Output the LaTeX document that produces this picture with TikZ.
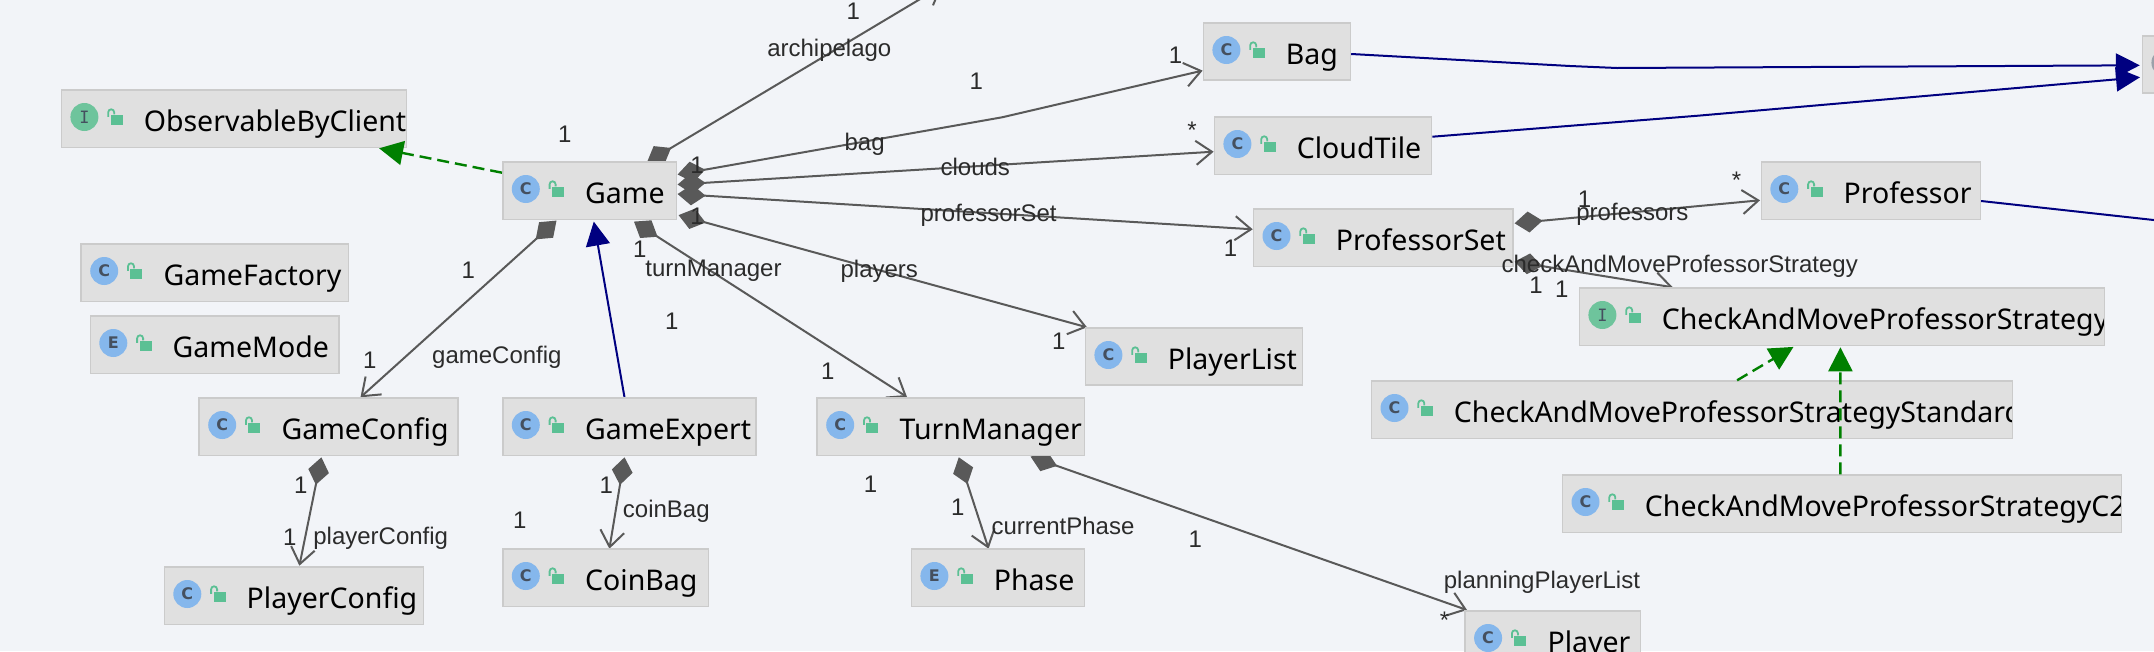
\documentclass[tikz,border=0pt]{standalone}
\usepackage{fontspec}
\setmainfont{Noto Sans}
\newfontfamily\lblfont{Liberation Sans}
\newfontfamily\iconfont{DejaVu Sans}
\newfontfamily\iconmono{DejaVu Sans Mono}
\usetikzlibrary{arrows.meta,calc}
\pgfdeclarelayer{under}
\pgfsetlayers{under,main}
\definecolor{bgc}{HTML}{F2F4F8}
\definecolor{boxfill}{HTML}{E0E0E0}
\definecolor{boxline}{HTML}{CBCBCB}
\definecolor{iconblue}{HTML}{85B7EC}
\definecolor{icongreen}{HTML}{6EC49C}
\definecolor{icongray}{HTML}{9BA1AA}
\definecolor{icontext}{HTML}{45505F}
\definecolor{lockgreen}{HTML}{5BC094}
\definecolor{assoc}{HTML}{595959}
\definecolor{navyl}{HTML}{000080}
\definecolor{greenl}{HTML}{008000}
\definecolor{lbl}{HTML}{2B2B2B}
\tikzset{
  x=1pt,y=-1pt,
  classbox/.style={draw=boxline,fill=boxfill,line width=1.6pt,inner sep=0pt},
  classname/.style={anchor=base west,inner sep=0pt,font=\fontsize{28.5}{28.5}\selectfont,text=black},
  iconc/.style={circle,minimum size=28pt,inner sep=0pt,fill=iconblue,text=icontext,font=\iconfont\bfseries\fontsize{16}{16}\selectfont},
  iconi/.style={iconc,fill=icongreen,font=\iconmono\fontsize{17}{17}\selectfont},
  icong/.style={iconc,fill=icongray},
  lockbody/.style={fill=lockgreen,draw=none},
  lockarc/.style={draw=lockgreen,line width=1.8pt},
  role/.style={inner sep=0pt,font=\lblfont\fontsize{24}{24}\selectfont,text=lbl},
  comp/.style={draw=assoc,line width=2pt,{Diamond[length=28pt,width=21pt,fill=assoc]}-{Straight Barb[length=16pt,width=24pt,line width=2pt]}},
  navyinh/.style={draw=navyl,line width=2pt,-{Triangle[length=24pt,width=24pt,fill=navyl]}},
  implarrow/.style={draw=greenl,line width=2.4pt,dash pattern=on 12pt off 6pt,-{Triangle[length=24pt,width=24pt,fill=greenl]}},
}
% name, x0, y0, x1, y1, icon style, letter, text
\newcommand{\umlclass}[8]{%
  \node[classbox,minimum width=#4pt-#2pt,minimum height=#5pt-#3pt,anchor=north west] (#1) at (#2,#3) {};
  \node[#6] (#1-icon) at ($(#1.north west)+(23.8,27.7)$) {#7};
  \fill[lockbody] ($(#1.north west)+(50,26)$) rectangle ($(#1.north west)+(62,35.7)$);
  \draw[lockarc] ($(#1.north west)+(47.6,27.5)$) -- ($(#1.north west)+(47.6,23)$) arc[start angle=180,end angle=0,x radius=3pt,y radius=3pt] -- ($(#1.north west)+(53.6,25)$);
  \begin{scope}
    \clip (#2,#3) rectangle (#4,#5);
    \node[classname] (#1-name) at (#2+83,#3+42) {#8};
  \end{scope}
}
\begin{document}
\begin{tikzpicture}
\useasboundingbox (0,0) rectangle (2154,651);
\begin{pgfonlayer}{under}
\fill[bgc] (0,0) rectangle (2154,651);
\end{pgfonlayer}

\umlclass{obs}{60.6}{89.3}{405.5}{146.7}{iconi}{I}{ObservableByClient}
\umlclass{game}{502}{161.3}{675.5}{218.7}{iconc}{C}{Game}
\umlclass{factory}{80.4}{243.3}{347.6}{300.7}{iconc}{C}{GameFactory}
\umlclass{mode}{89.5}{315.3}{338.4}{372.7}{iconc}{E}{GameMode}
\umlclass{config}{198.4}{397.3}{457.4}{454.7}{iconc}{C}{GameConfig}
\umlclass{expert}{502}{397.3}{755.4}{454.7}{iconc}{C}{GameExpert}
\umlclass{pconfig}{163.5}{566.3}{422.5}{623.7}{iconc}{C}{PlayerConfig}
\umlclass{coinbag}{502}{548.3}{707.6}{605.7}{iconc}{C}{CoinBag}
\umlclass{turn}{816.4}{397.3}{1083.7}{454.7}{iconc}{C}{TurnManager}
\umlclass{phase}{910.6}{548.3}{1083.7}{605.7}{iconc}{E}{Phase}
\umlclass{plist}{1084.6}{327.3}{1301.8}{384.3}{iconc}{C}{PlayerList}
\umlclass{bag}{1202.6}{22.3}{1349.6}{79.3}{iconc}{C}{Bag}
\umlclass{cloud}{1213.6}{116.3}{1430.8}{173.7}{iconc}{C}{CloudTile}
\umlclass{pset}{1252.7}{208.3}{1512}{265.7}{iconc}{C}{ProfessorSet}
\umlclass{prof}{1760.5}{161.3}{1979.5}{218.7}{iconc}{C}{Professor}
\umlclass{strat}{1578.6}{287.3}{2103.5}{344.7}{iconi}{I}{CheckAndMoveProfessorStrategy}
\umlclass{std}{1370.7}{380.3}{2011.7}{437.7}{iconc}{C}{CheckAndMoveProfessorStrategyStandard}
\umlclass{ctwo}{1561.7}{474.3}{2120.5}{531.7}{iconc}{C}{CheckAndMoveProfessorStrategyC2}
\umlclass{player}{1464.3}{610.3}{1639.7}{668}{iconc}{C}{Player}
\umlclass{right}{2141.6}{35}{2300}{92.3}{icong}{}{}

% connectors that leave the picture
\coordinate (archi) at (942,-14);
\coordinate (profout) at (2190,224);

\begin{pgfonlayer}{under}
\draw[comp] ($(game.north west)+(145,1)$) -- (archi);
\draw[comp] ($(game.north east)+(0.5,13.2)$) -- ($(game.north east)+(325,-44)$) -- ($(bag.south west)+(0,-10.3)$);
\draw[comp] ($(game.north east)+(0.5,23.2)$) -- ($(cloud.north west)+(0,35.4)$);
\draw[comp] ($(game.north east)+(0.5,32.7)$) -- ($(pset.north west)+(0,21)$);
\draw[comp] ($(game.south east)+(1.5,-5.2)$) -- ($(plist.north west)+(2.4,0)$);
\draw[comp] ($(game.south west)+(132,1.3)$) -- ($(turn.north west)+(90.6,-0.3)$);
\draw[comp] ($(game.south west)+(54.5,0.3)$) -- ($(config.north west)+(162.1,0)$);
\draw[comp] ($(config.south west)+(123,1)$) -- ($(pconfig.north west)+(135.9,-0.6)$);
\draw[comp] ($(expert.south west)+(122.5,1)$) -- ($(coinbag.north west)+(107.4,0.4)$);
\draw[comp] ($(turn.south west)+(142.4,1)$) -- ($(phase.north west)+(78,0.4)$);
\draw[comp] ($(turn.south east)+(-54.7,0.3)$) -- ($(player.north west)+(2.7,-0.3)$);
\draw[comp] ($(pset.north east)+(1,15)$) -- ($(prof.north west)+(-0.5,39)$);
\draw[comp] ($(pset.south east)+(1,-5.7)$) -- ($(strat.north west)+(94.2,0)$);
\draw[navyinh] ($(expert.north west)+(122.5,0)$) -- ($(game.south west)+(91.8,1.3)$);
\draw[navyinh] ($(bag.north east)+(0,31.7)$) -- (1570,66) -- (1617,68) -- ($(right.north west)+(-1.8,30.3)$);
\draw[navyinh] ($(cloud.north east)+(0,20.4)$) -- (1698,115.7) -- ($(right.north west)+(-1.6,42.3)$);
\draw[draw=navyl,line width=2pt] ($(prof.north east)+(0,39.7)$) -- (profout);
\end{pgfonlayer}

\draw[implarrow] ($(game.north west)+(0,11.4)$) -- ($(obs.south east)+(-28,0)$);
\draw[implarrow] ($(std.north west)+(366.4,0)$) -- ($(strat.south west)+(214.9,0.6)$);
\draw[implarrow] ($(ctwo.north west)+(278.7,0)$) -- ($(strat.south west)+(261.8,1)$);

% roles and multiplicities
\node[role] (m1) at (564.8,134) {1};
\node[role] (m2) at (697,165) {1};
\node[role] (m3) at (697,216.7) {1};
\node[role] (m4) at (639.7,249) {1};
\node[role] (m5) at (468.4,270.7) {1};
\node[role] (m6) at (671.8,321) {1};
\node[role] (m7) at (853.2,11.7) {1};
\node[role] (m8) at (976.2,81.7) {1};
\node[role] (m9) at (1175.5,55) {1};
\node[role] (m10) at (1192,130) {*};
\node[role] (m11) at (1230.6,248.3) {1};
\node[role] (m12) at (1584.6,199) {1};
\node[role] (m13) at (1736.6,180) {*};
\node[role] (m14) at (1536,285) {1};
\node[role] (m15) at (1561.7,289.3) {1};
\node[role] (m16) at (369.7,360) {1};
\node[role] (m17) at (300.8,485) {1};
\node[role] (m18) at (289.8,537.7) {1};
\node[role] (m19) at (606.2,485) {1};
\node[role] (m20) at (519.8,520.3) {1};
\node[role] (m21) at (827.9,371.7) {1};
\node[role] (m22) at (1058.9,341.7) {1};
\node[role] (m23) at (870.6,484.3) {1};
\node[role] (m24) at (957.9,507.7) {1};
\node[role] (m25) at (1195.3,539.7) {1};
\node[role] (m26) at (1444.6,620) {*};
\node[role] (r1) at (829.3,50.7) {archipelago};
\node[role] (r2) at (864.6,144) {bag};
\node[role] (r3) at (975.3,167.3) {clouds};
\node[role] (r4) at (988.6,215) {professorSet};
\node[role] (r5) at (879.3,271.7) {players};
\node[role] (r6) at (713.5,270.7) {turnManager};
\node[role] (r7) at (1632.4,214.3) {professors};
\node[role] (r8) at (1679.7,266) {checkAndMoveProfessorStrategy};
\node[role] (r9) at (496.9,357) {gameConfig};
\node[role] (r10) at (380.7,538.3) {playerConfig};
\node[role] (r11) at (666.3,511.7) {coinBag};
\node[role] (r12) at (1063,526.3) {currentPhase};
\node[role] (r13) at (1541.9,582.7) {planningPlayerList};
\end{tikzpicture}
\end{document}
